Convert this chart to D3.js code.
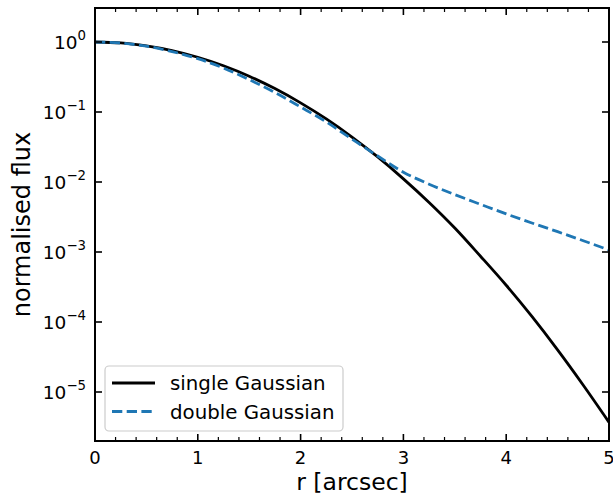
<!DOCTYPE html>
<html><head><meta charset="utf-8">
<script src="https://cdn.jsdelivr.net/npm/d3@7"></script>
<style>body{margin:0;background:#fff}svg{display:block;font-family:"DejaVu Sans",sans-serif}</style>
</head><body><svg id="c" width="613" height="498"></svg>
<script>
const radius = [0,0.25,0.5,0.75,1.0,1.25,1.5,1.75,2.0,2.25,2.5,2.75,3.0,3.25,3.5,3.75,4.0,4.25,4.5,4.75,5.0];
const singleGaussian = [1.0,0.97,0.88,0.755,0.605,0.458,0.325,0.216,0.135,0.0796,0.0439,0.0228,0.0111,0.0051,0.0022,0.00087,0.000335,0.00012,0.00004,0.0000125,0.0000037];
const doubleGaussian = [1.0,0.966,0.87,0.73,0.578,0.425,0.29,0.19,0.118,0.072,0.041,0.0235,0.0138,0.0093,0.0066,0.0048,0.0035,0.0026,0.00195,0.00145,0.00107];
const xTicks = [0,1,2,3,4,5];
const yTickExps = [0,-1,-2,-3,-4,-5];
const seriesNames = ["single Gaussian","double Gaussian"];

const L=95,R=609,T=8,B=441;
const svg=d3.select("#c");
const x=d3.scaleLinear().domain([0,5]).range([L,R]);
const y=d3.scaleLog().domain([Math.pow(10,-399/70),Math.pow(10,34/70)]).range([B,T]);

const line=d3.line().x(d=>x(d[0])).y(d=>y(d[1])).curve(d3.curveMonotoneX);
svg.append("clipPath").attr("id","cl").append("rect").attr("x",L).attr("y",T).attr("width",R-L).attr("height",B-T);
const g=svg.append("g").attr("clip-path","url(#cl)");
g.append("path").datum(radius.map((r,i)=>[r,singleGaussian[i]]))
 .attr("d",line).attr("fill","none").attr("stroke","#000").attr("stroke-width",2.8);
g.append("path").datum(radius.map((r,i)=>[r,doubleGaussian[i]]))
 .attr("d",line).attr("fill","none").attr("stroke","#1f77b4").attr("stroke-width",2.8).attr("stroke-dasharray","10.3,4.4");

const tickW=1.6;
const minorX=d3.range(0,5.001,0.2).filter(v=>Math.abs(v-Math.round(v))>1e-6);
[[B,-1],[T,1]].forEach(([yy,dir])=>{
  xTicks.forEach(v=>svg.append("line").attr("x1",x(v)).attr("x2",x(v)).attr("y1",yy).attr("y2",yy+dir*7).attr("stroke","#000").attr("stroke-width",tickW));
  minorX.forEach(v=>svg.append("line").attr("x1",x(v)).attr("x2",x(v)).attr("y1",yy).attr("y2",yy+dir*4).attr("stroke","#000").attr("stroke-width",1.2));
});
[[L,1],[R,-1]].forEach(([xx,dir])=>{
  yTickExps.forEach(e=>svg.append("line").attr("x1",xx).attr("x2",xx+dir*7).attr("y1",y(Math.pow(10,e))).attr("y2",y(Math.pow(10,e))).attr("stroke","#000").attr("stroke-width",tickW));
});
svg.append("rect").attr("x",L).attr("y",T).attr("width",R-L).attr("height",B-T).attr("fill","none").attr("stroke","#000").attr("stroke-width",2);

const fs=18.5;
xTicks.forEach(v=>svg.append("text").attr("x",x(v)).attr("y",464).attr("text-anchor","middle").attr("font-size",18).text(v));
yTickExps.forEach(e=>{
  const t=svg.append("text").attr("x",86).attr("y",y(Math.pow(10,e))+6.5).attr("text-anchor","end").attr("font-size",fs);
  t.append("tspan").text("10");
  t.append("tspan").attr("dy",-8.5).attr("font-size",fs*0.72).text(e<0?"\u2212"+(-e):""+e);
});
svg.append("text").attr("x",(L+R)/2).attr("y",490).attr("text-anchor","middle").attr("font-size",23.5).text("r [arcsec]");
svg.append("text").attr("transform",`translate(30,${(T+B)/2}) rotate(-90)`).attr("text-anchor","middle").attr("font-size",24).text("normalised flux");

const lg=svg.append("g");
lg.append("rect").attr("x",105).attr("y",366).attr("width",238).attr("height",65).attr("rx",4).attr("fill","#fff").attr("fill-opacity",0.8).attr("stroke","#ccc").attr("stroke-width",1.2);
const styles=[{c:"#000",d:null},{c:"#1f77b4",d:"10.3,4.4"}];
seriesNames.forEach((n,i)=>{
  const yy=383+i*28.5;
  const l=lg.append("line").attr("x1",112).attr("x2",155).attr("y1",yy).attr("y2",yy).attr("stroke",styles[i].c).attr("stroke-width",2.8);
  if(styles[i].d) l.attr("stroke-dasharray",styles[i].d);
  lg.append("text").attr("x",170).attr("y",yy+7).attr("font-size",19.8).text(n);
});
</script></body></html>
